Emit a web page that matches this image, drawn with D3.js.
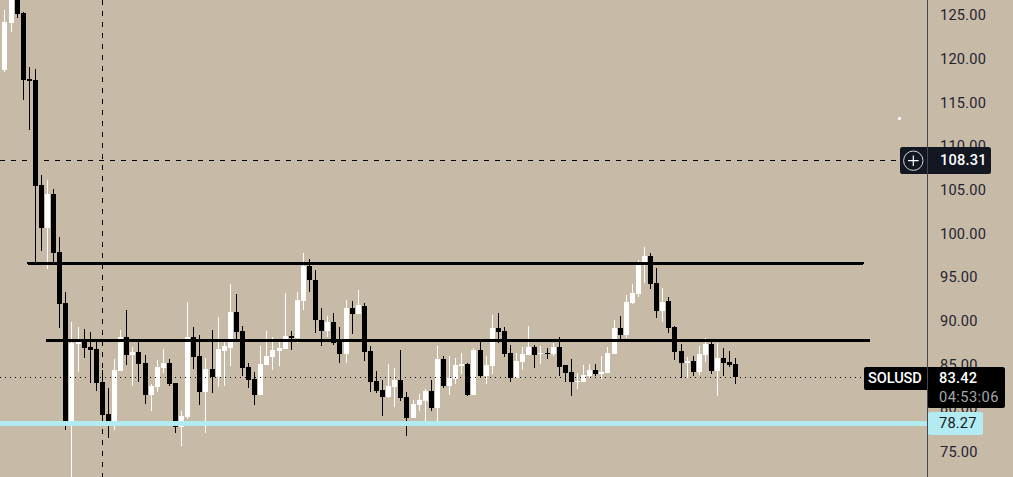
<!DOCTYPE html>
<html><head><meta charset="utf-8">
<script src="https://cdn.jsdelivr.net/npm/d3@7"></script>
<style>html,body{margin:0;padding:0;background:#c7baa7;overflow:hidden}svg{display:block;font-family:Roboto,sans-serif}</style>
</head><body><svg id="c" width="1013" height="477"></svg>
<script>
const opens=[118.64,124.06,127.58,125.17,117.61,117.50,105.47,100.54,104.44,97.79,
91.95,78.09,87.25,87.48,86.91,86.68,82.90,79.24,78.09,84.16,
88.06,85.99,86.34,85.08,81.41,82.33,84.51,85.08,82.79,77.75,
78.89,88.06,85.88,81.76,84.39,83.48,86.45,86.80,90.92,88.74,
84.62,83.25,81.41,84.85,85.77,86.45,86.68,88.17,87.94,92.18,
96.19,94.59,90.00,88.74,89.77,87.48,86.11,91.38,90.69,91.61,
86.45,83.02,81.99,81.19,82.33,83.13,81.19,78.78,80.27,80.73,
81.87,79.92,85.54,82.44,83.25,84.85,84.96,81.41,86.57,83.59,
84.73,89.09,88.74,86.22,83.36,85.19,85.99,86.91,86.11,86.26,
86.11,86.91,84.85,84.05,82.90,82.90,83.59,84.28,83.82,83.93,
86.11,89.09,88.29,91.95,92.98,96.42,97.33,94.24,91.03,92.18,
89.20,86.45,85.08,85.31,84.05,85.99,87.25,84.16,85.65,85.19,
84.96];
const highs=[125.51,128.38,128.03,125.29,118.99,118.76,106.61,106.04,105.01,99.51,
93.21,89.77,89.20,88.97,88.63,87.71,84.28,82.21,85.54,88.86,
91.15,86.91,87.71,85.99,82.67,85.42,86.68,85.54,82.79,79.58,
92.07,89.20,88.29,85.65,88.86,90.35,87.71,94.13,92.98,89.32,
85.08,84.05,87.03,88.74,88.06,87.48,93.10,88.74,93.21,97.68,
96.99,95.73,91.38,90.46,90.81,89.20,92.30,92.18,93.44,91.95,
87.03,84.16,83.13,84.96,84.51,86.57,81.76,80.84,81.53,82.10,
83.13,87.03,85.88,85.88,85.65,86.22,85.08,86.80,87.48,85.88,
90.58,90.81,89.20,87.14,86.22,86.91,89.32,87.14,87.03,86.80,
87.37,88.06,84.85,85.54,83.93,84.85,84.96,84.96,85.88,86.91,
90.00,90.46,92.87,94.13,96.88,98.37,97.68,95.96,93.67,92.64,
89.32,87.25,85.77,85.88,87.03,87.94,87.71,87.37,86.80,86.45,
85.65];
const lows=[118.41,122.99,124.60,115.21,111.77,96.53,97.91,95.85,96.53,89.09,
77.40,70.53,84.05,85.65,82.79,81.87,77.98,76.49,77.40,84.16,
84.85,82.44,82.90,80.38,79.58,81.76,83.93,82.44,77.06,75.57,
78.66,84.39,80.27,77.06,81.64,82.33,82.44,84.73,87.71,83.59,
82.21,80.27,81.41,84.85,84.28,84.73,86.68,86.57,87.37,91.15,
93.21,88.51,87.03,88.06,87.14,85.08,85.08,88.40,90.69,85.31,
81.76,81.64,79.01,81.07,80.04,80.73,76.72,78.78,79.58,78.43,
79.58,78.43,82.21,81.41,82.67,83.82,81.30,81.41,83.36,82.67,
83.82,87.37,85.77,82.90,83.36,84.28,85.99,84.51,84.96,85.54,
85.88,83.59,82.90,81.30,82.10,82.90,83.36,83.59,83.25,83.93,
86.11,87.71,87.94,91.84,92.64,94.24,93.55,90.23,89.77,88.51,
85.42,83.36,83.36,83.59,83.70,85.19,83.82,81.30,83.59,84.62,
82.64];
const closes=[124.14,127.81,125.06,117.50,117.38,105.39,100.54,104.44,97.68,91.84,
78.09,87.37,87.48,86.80,86.57,82.79,79.12,78.09,84.28,88.06,
85.99,86.34,84.96,81.41,82.44,84.62,85.08,82.67,77.75,79.01,
88.06,85.77,81.76,84.39,83.48,86.68,87.03,90.92,88.63,84.51,
83.13,81.41,84.96,85.88,86.57,86.80,88.17,88.00,92.30,96.19,
94.59,90.00,88.74,89.77,87.37,86.11,91.38,90.69,91.72,86.34,
82.90,81.87,81.19,82.44,83.13,81.07,78.78,80.38,80.84,81.87,
79.92,85.54,82.44,83.36,84.85,84.96,81.41,86.57,83.59,84.85,
89.09,88.63,86.11,83.36,85.31,86.11,86.91,85.99,86.26,86.11,
86.91,84.62,83.93,82.90,83.05,83.70,84.28,83.82,84.05,86.22,
89.09,88.29,92.07,93.10,96.42,97.33,94.13,91.03,92.07,89.09,
86.34,85.08,85.31,84.05,86.11,87.25,84.16,85.65,85.08,84.85,
83.42];
const tickValues=[75,80,85,90,95,100,105,110,115,120,125];
const levels=[{price:96.5,from:3.85,to:140.8},{price:87.68,from:6.95,to:141.8}];
const bid=83.42, crossPrice=108.31, alertPrice=78.27, crossIndex=16;
const symbol="SOLUSD", countdown="04:53:06";

const bg="#c7baa7", W=1013, H=477, axisX=927.5;
const x=d3.scaleLinear().domain([0,120]).range([4.95,735.86]);
const y=d3.scaleLinear().domain([75,125]).range([451,14.5]);
const px=i=>Math.floor(x(i))+0.5;
const svg=d3.select("#c");
svg.append("rect").attr("width",W).attr("height",H).attr("fill",bg);

const idx=d3.range(opens.length);
const col=i=>closes[i]>opens[i]?"#ffffff":"#000000";
const chart=svg.append("g").attr("shape-rendering","crispEdges");
// crosshair vertical, under the candles
chart.append("line").attr("x1",px(crossIndex)).attr("x2",px(crossIndex)).attr("y1",0).attr("y2",H)
  .attr("stroke","#000").attr("stroke-dasharray","5 6");
chart.selectAll(".w").data(idx).join("rect").attr("class","w")
  .attr("x",i=>px(i)-0.5).attr("width",1)
  .attr("y",i=>y(highs[i])).attr("height",i=>y(lows[i])-y(highs[i])).attr("fill",col);
chart.selectAll(".b").data(idx).join("rect").attr("class","b")
  .attr("x",i=>px(i)-2.5).attr("width",5)
  .attr("y",i=>y(Math.max(opens[i],closes[i])))
  .attr("height",i=>Math.max(1.5,Math.abs(y(opens[i])-y(closes[i])))).attr("fill",col);

// price lines
chart.append("line").attr("x1",0).attr("x2",864).attr("y1",y(bid)+0.5).attr("y2",y(bid)+0.5)
  .attr("stroke","#000").attr("stroke-dasharray","1 4");
chart.append("line").attr("x1",0).attr("x2",897).attr("y1",y(crossPrice)).attr("y2",y(crossPrice))
  .attr("stroke","#000").attr("stroke-dasharray","5 6");
chart.append("line").attr("x1",0).attr("x2",axisX).attr("y1",y(alertPrice)+1).attr("y2",y(alertPrice)+1)
  .attr("stroke","#b2ebf2").attr("stroke-width",5);
chart.selectAll(".lvl").data(levels).join("line").attr("class","lvl")
  .attr("x1",d=>x(d.from)).attr("x2",d=>x(d.to)).attr("y1",d=>y(d.price)).attr("y2",d=>y(d.price))
  .attr("stroke","#000").attr("stroke-width",3).attr("stroke-linecap","round");

svg.append("circle").attr("cx",899.5).attr("cy",118.5).attr("r",1.6).attr("fill","#fff");

// price axis
const axis=d3.axisRight(y).tickValues(tickValues).tickSize(0).tickPadding(12.5).tickFormat(d3.format(".2f"));
const ag=svg.append("g").attr("transform",`translate(${axisX},0)`).call(axis);
ag.select(".domain").remove();
ag.selectAll("text").attr("fill","#1f2330").attr("font-size",14.6).attr("font-family","Roboto,sans-serif").attr("letter-spacing",0.2).attr("y",0.8);
svg.append("line").attr("x1",axisX).attr("x2",axisX).attr("y1",0).attr("y2",H).attr("stroke","#434651");

const T=(s,tx,ty,fill,weight,ls)=>svg.append("text").text(s).attr("x",tx).attr("y",ty).attr("fill",fill)
  .attr("font-size",14.6).attr("font-weight",weight||400).attr("letter-spacing",ls===undefined?0.2:ls).attr("dominant-baseline","middle");

// cross price tag
svg.append("rect").attr("x",900).attr("y",147).attr("width",91).attr("height",27).attr("rx",2.5).attr("fill","#131722");
svg.append("line").attr("x1",axisX).attr("x2",axisX).attr("y1",147).attr("y2",174).attr("stroke","#434651");
svg.append("circle").attr("cx",913.3).attr("cy",160.7).attr("r",9.7).attr("fill","none").attr("stroke","#d1d4dc").attr("stroke-width",1);
svg.append("path").attr("d","M908 160.7H918.6M913.3 155.4V166").attr("stroke","#fff").attr("stroke-width",1.2);
T(d3.format(".2f")(crossPrice),940,161,"#fff",500);

// symbol + last price tags
svg.append("rect").attr("x",864).attr("y",367).attr("width",70).attr("height",23).attr("rx",2).attr("fill","#000");
svg.append("rect").attr("x",927).attr("y",367).attr("width",78).attr("height",41).attr("rx",2.5).attr("fill","#000");
svg.append("line").attr("x1",axisX).attr("x2",axisX).attr("y1",367).attr("y2",408).attr("stroke","#434651");
T(symbol,868,379,"#fff",500,-0.1);
T(d3.format(".2f")(bid),939,379,"#fff",500);
T(countdown,939,398,"#a6a6a6",400,0.45);

// alert tag
svg.append("rect").attr("x",928).attr("y",412).attr("width",55).attr("height",23).attr("rx",2).attr("fill","#b2ebf2");
T(d3.format(".2f")(alertPrice),939,424,"#131722",400);
</script></body></html>
